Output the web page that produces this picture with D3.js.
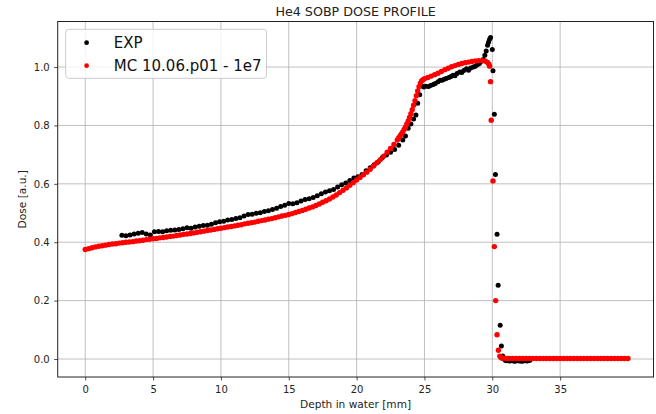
<!DOCTYPE html>
<html>
<head>
<meta charset="utf-8">
<script src="https://cdn.jsdelivr.net/npm/d3@7"></script>
<style>
  body { margin: 0; background: #fff; }
  svg { display: block; font-family: "DejaVu Sans", sans-serif; }
</style>
</head>
<body>
<div id="chart"></div>
<script>
const expDepth = [2.7, 3.0, 3.3, 3.6, 3.9, 4.2, 4.5, 4.8, 5.1, 5.4, 5.7, 6.0, 6.3, 6.6, 6.9, 7.2, 7.5, 7.8, 8.1, 8.4,
  8.7, 9.0, 9.3, 9.6, 9.9, 10.2, 10.5, 10.8, 11.1, 11.4, 11.7, 12.0, 12.3, 12.6, 12.9, 13.2, 13.5, 13.8, 14.1, 14.4,
  14.7, 15.0, 15.3, 15.6, 15.9, 16.2, 16.5, 16.8, 17.1, 17.4, 17.7, 18.0, 18.3, 18.6, 18.9, 19.2, 19.5, 19.8, 20.1, 20.4,
  20.7, 21.0, 21.3, 21.6, 21.9, 22.2, 22.5, 22.8, 23.1, 23.4, 23.6, 23.8, 24.0, 24.2, 24.37, 24.5, 24.65, 24.8, 24.95, 25.1,
  25.3, 25.45, 25.65, 25.8, 26.0, 26.15, 26.3, 26.45, 26.6, 26.8, 26.95, 27.1, 27.25, 27.4, 27.6, 27.75, 27.9, 28.1, 28.25, 28.4,
  28.6, 28.75, 28.9, 29.05, 29.2, 29.33, 29.45, 29.55, 29.65, 29.72, 29.8, 29.87, 30.0, 30.05, 30.15, 30.23, 30.35, 30.43, 30.58, 30.67,
  30.77, 30.87, 30.97, 31.07, 31.17, 31.27, 31.37, 31.47, 31.57, 31.67, 31.77, 31.87, 31.97, 32.07, 32.17, 32.27, 32.37, 32.47, 32.57, 32.67,
  32.77];
const expDose = [0.424, 0.422, 0.425, 0.428, 0.431, 0.433, 0.428, 0.425, 0.436, 0.437, 0.436, 0.439, 0.441, 0.442, 0.444, 0.446, 0.450, 0.448, 0.452, 0.455,
  0.457, 0.458, 0.462, 0.467, 0.470, 0.472, 0.476, 0.478, 0.481, 0.484, 0.490, 0.495, 0.496, 0.499, 0.501, 0.505, 0.508, 0.512, 0.516, 0.522,
  0.527, 0.533, 0.532, 0.535, 0.541, 0.546, 0.549, 0.553, 0.559, 0.566, 0.572, 0.576, 0.581, 0.589, 0.597, 0.603, 0.611, 0.620, 0.624, 0.632,
  0.645, 0.655, 0.665, 0.676, 0.690, 0.699, 0.708, 0.718, 0.732, 0.750, 0.764, 0.790, 0.805, 0.822, 0.836, 0.876, 0.905, 0.935, 0.932, 0.934,
  0.933, 0.937, 0.940, 0.944, 0.950, 0.955, 0.955, 0.958, 0.961, 0.964, 0.968, 0.972, 0.970, 0.978, 0.983, 0.981, 0.988, 0.994, 0.989, 0.997,
  1.000, 1.003, 1.008, 1.012, 1.020, 1.026, 1.040, 1.055, 1.075, 1.085, 1.095, 1.101, 1.060, 0.987, 0.838, 0.632, 0.427, 0.253, 0.116, 0.045,
  0.010, 0.000, -0.005, -0.006, -0.005, -0.007, -0.006, -0.005, -0.007, -0.008, -0.006, -0.005, -0.007, -0.006, -0.008, -0.007, -0.005, -0.006, -0.007, -0.005,
  -0.004];

// Monte Carlo depth-dose
const mcDepth = [0, 0.25, 0.5, 0.75, 1, 1.25, 1.5, 1.75, 2, 2.25, 2.5, 2.75, 3, 3.25, 3.5, 3.75, 4, 4.25, 4.5, 4.75,
  5, 5.25, 5.5, 5.75, 6, 6.25, 6.5, 6.75, 7, 7.25, 7.5, 7.75, 8, 8.25, 8.5, 8.75, 9, 9.25, 9.5, 9.75,
  10, 10.25, 10.5, 10.75, 11, 11.25, 11.5, 11.75, 12, 12.25, 12.5, 12.75, 13, 13.25, 13.5, 13.75, 14, 14.25, 14.5, 14.75,
  15, 15.25, 15.5, 15.75, 16, 16.25, 16.5, 16.75, 17, 17.25, 17.5, 17.75, 18, 18.25, 18.5, 18.75, 19, 19.25, 19.5, 19.75,
  20, 20.25, 20.5, 20.75, 21, 21.25, 21.5, 21.75, 22, 22.25, 22.5, 22.75, 23, 23.1, 23.2, 23.3, 23.4, 23.5, 23.6, 23.7,
  23.8, 23.9, 24.0, 24.1, 24.2, 24.3, 24.4, 24.5, 24.6, 24.7, 24.8, 24.9, 25.0, 25.25, 25.5, 25.75, 26, 26.25, 26.5, 26.75,
  27, 27.25, 27.5, 27.75, 28, 28.25, 28.5, 28.75, 29, 29.25, 29.5, 29.65, 29.75, 29.8, 29.87, 29.92, 30.05, 30.15, 30.25, 30.35,
  30.45, 30.55, 30.65, 30.75, 30.9, 31.1, 31.25, 31.5, 31.75, 32, 32.25, 32.5, 32.75, 33, 33.25, 33.5, 33.75, 34, 34.25, 34.5,
  34.75, 35, 35.25, 35.5, 35.75, 36, 36.25, 36.5, 36.75, 37, 37.25, 37.5, 37.75, 38, 38.25, 38.5, 38.75, 39, 39.25, 39.5,
  39.75, 40];
const mcDose = [0.375, 0.378, 0.381, 0.384, 0.386, 0.388, 0.390, 0.392, 0.394, 0.395, 0.397, 0.398, 0.400, 0.401, 0.402, 0.404, 0.405, 0.407, 0.409, 0.410,
  0.412, 0.413, 0.415, 0.416, 0.418, 0.420, 0.421, 0.423, 0.425, 0.427, 0.428, 0.430, 0.432, 0.434, 0.436, 0.438, 0.440, 0.442, 0.444, 0.446,
  0.448, 0.450, 0.452, 0.454, 0.456, 0.458, 0.460, 0.463, 0.465, 0.467, 0.469, 0.472, 0.474, 0.476, 0.479, 0.481, 0.484, 0.487, 0.490, 0.492,
  0.495, 0.498, 0.502, 0.505, 0.509, 0.513, 0.517, 0.521, 0.526, 0.531, 0.537, 0.542, 0.548, 0.555, 0.562, 0.570, 0.578, 0.586, 0.595, 0.604,
  0.613, 0.622, 0.631, 0.640, 0.650, 0.661, 0.672, 0.683, 0.695, 0.708, 0.721, 0.735, 0.750, 0.757, 0.764, 0.771, 0.778, 0.786, 0.795, 0.805,
  0.815, 0.827, 0.840, 0.854, 0.869, 0.885, 0.902, 0.918, 0.933, 0.945, 0.953, 0.957, 0.960, 0.964, 0.969, 0.974, 0.979, 0.985, 0.991, 0.996,
  1.001, 1.005, 1.009, 1.012, 1.015, 1.017, 1.019, 1.021, 1.022, 1.022, 1.020, 1.016, 1.010, 1.003, 0.950, 0.818, 0.610, 0.385, 0.200, 0.083,
  0.030, 0.010, 0.004, 0.003, 0.003, 0.002, 0.002, 0.002, 0.002, 0.002, 0.002, 0.002, 0.002, 0.002, 0.002, 0.002, 0.002, 0.002, 0.002, 0.002,
  0.002, 0.002, 0.002, 0.002, 0.002, 0.002, 0.002, 0.002, 0.002, 0.002, 0.002, 0.002, 0.002, 0.002, 0.002, 0.002, 0.002, 0.002, 0.002, 0.002,
  0.002, 0.002];

const xTicks = [0, 5, 10, 15, 20, 25, 30, 35];
const yTicks = [0.0, 0.2, 0.4, 0.6, 0.8, 1.0];
const seriesNames = ["EXP", "MC 10.06.p01 - 1e7"];
const seriesColors = ["#000000", "#ff0000"];

const W = 656, H = 414;
const margin = { top: 21.5, right: 2.5, bottom: 37, left: 57.7 };
const iw = W - margin.left - margin.right;
const ih = H - margin.top - margin.bottom;

const svg = d3.select("#chart").append("svg").attr("width", W).attr("height", H);
const g = svg.append("g").attr("transform", `translate(${margin.left},${margin.top})`);

const x = d3.scaleLinear().domain([-2.03, 41.88]).range([0, iw]);
const y = d3.scaleLinear().domain([-0.0616, 1.156]).range([ih, 0]);

// grid
g.append("g").selectAll("line").data(xTicks).join("line")
  .attr("x1", d => x(d)).attr("x2", d => x(d)).attr("y1", 0).attr("y2", ih)
  .attr("stroke", "#b0b0b0").attr("stroke-width", 0.8);
g.append("g").selectAll("line").data(yTicks).join("line")
  .attr("y1", d => y(d)).attr("y2", d => y(d)).attr("x1", 0).attr("x2", iw)
  .attr("stroke", "#b0b0b0").attr("stroke-width", 0.8);

// data points
const expPts = expDepth.map((d, i) => [d, expDose[i]]);
const mcPts = mcDepth.map((d, i) => [d, mcDose[i]]);

g.append("g").selectAll("circle").data(expPts).join("circle")
  .attr("cx", d => x(d[0])).attr("cy", d => y(d[1])).attr("r", 2.5)
  .attr("fill", seriesColors[0]);
g.append("g").selectAll("circle").data(mcPts).join("circle")
  .attr("cx", d => x(d[0])).attr("cy", d => y(d[1])).attr("r", 2.7)
  .attr("fill", seriesColors[1]);

// axes
const xAxis = g.append("g").attr("transform", `translate(0,${ih})`)
  .call(d3.axisBottom(x).tickValues(xTicks).tickFormat(d3.format("d")).tickSize(3.5).tickPadding(5));
const yAxis = g.append("g")
  .call(d3.axisLeft(y).tickValues(yTicks).tickFormat(d3.format(".1f")).tickSize(3.5).tickPadding(4.5));
[xAxis, yAxis].forEach(a => {
  a.select(".domain").remove();
  a.selectAll("line").attr("stroke", "#222").attr("stroke-width", 0.8);
  a.selectAll("text").attr("fill", "#222").style("font-size", "10px").style("font-family", "DejaVu Sans");
});

// frame
g.append("rect").attr("width", iw).attr("height", ih)
  .attr("fill", "none").attr("stroke", "#222").attr("stroke-width", 1);

// title and labels
svg.append("text").attr("x", margin.left + iw / 2).attr("y", 16)
  .attr("text-anchor", "middle").style("font-size", "12.7px").attr("fill", "#222")
  .text("He4 SOBP DOSE PROFILE");
svg.append("text").attr("x", margin.left + iw / 2).attr("y", 408)
  .attr("text-anchor", "middle").style("font-size", "10.6px").attr("fill", "#222")
  .text("Depth in water [mm]");
svg.append("text").attr("transform", `translate(26,${margin.top + ih / 2}) rotate(-90)`)
  .attr("text-anchor", "middle").style("font-size", "10.6px").attr("fill", "#222")
  .text("Dose [a.u.]");

// legend
const leg = svg.append("g");
leg.append("rect").attr("x", 65.7).attr("y", 29.3).attr("width", 200.8).attr("height", 49)
  .attr("rx", 3).attr("fill", "#fff").attr("fill-opacity", 0.8)
  .attr("stroke", "#cccccc").attr("stroke-width", 1);
const rows = leg.selectAll("g.row").data(seriesNames).join("g").attr("class", "row")
  .attr("transform", (d, i) => `translate(0,${42.7 + i * 23})`);
rows.append("circle").attr("cx", 86.6).attr("cy", 0).attr("r", 2.4)
  .attr("fill", (d, i) => seriesColors[i]);
rows.append("text").attr("x", 113.8).attr("y", 5.4)
  .style("font-size", "15px").attr("fill", "#111").text(d => d);
</script>
</body>
</html>
